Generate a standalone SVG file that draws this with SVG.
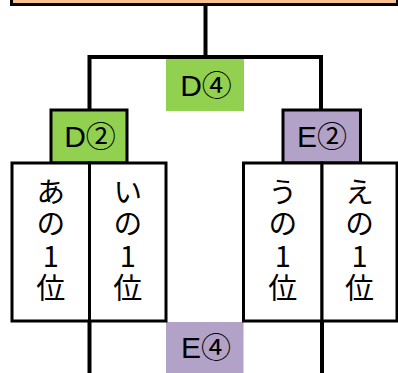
<svg xmlns="http://www.w3.org/2000/svg" width="398" height="373" viewBox="0 0 398 373">
<style>
.box{stroke:#000;stroke-width:3}
.lbl{font-family:"Liberation Sans","Noto Sans CJK JP",sans-serif;font-size:30px;fill:#000;text-anchor:middle}
.v{font-family:"Noto Sans CJK JP","Liberation Sans",sans-serif;font-size:29px;fill:#000;writing-mode:vertical-rl;text-orientation:upright;letter-spacing:3px}
.conn{stroke:#000;stroke-width:4;fill:none}
</style>
<rect width="398" height="373" fill="#fff"/>
<g id="top">
<rect class="box" x="11.5" y="-12" width="386" height="16.5" fill="#FAC090"/>
</g>
<g id="connectors">
<line class="conn" x1="205.5" y1="5" x2="205.5" y2="57"/>
<polyline class="conn" points="89.5,110 89.5,57 321,57 321,110"/>
<line class="conn" x1="89.5" y1="321" x2="89.5" y2="373"/>
<line class="conn" x1="322" y1="321" x2="322" y2="373"/>
</g>
<g id="D4">
<rect x="166" y="59" width="78" height="52" fill="#92D050"/>
<text class="lbl" x="206" y="96">D④</text>
</g>
<g id="D2">
<rect class="box" x="51" y="110" width="76" height="53" fill="#92D050"/>
<text class="lbl" x="90" y="147">D②</text>
</g>
<g id="E2">
<rect class="box" x="283" y="110" width="77.5" height="53" fill="#B3A2C7"/>
<text class="lbl" x="322" y="147">E②</text>
</g>
<g id="E4">
<rect x="166" y="322" width="77.5" height="52" fill="#B3A2C7"/>
<text class="lbl" x="206" y="358">E④</text>
</g>
<g id="a1">
<rect class="box" x="12" y="163" width="77.5" height="158" fill="#fff"/>
<text class="v" x="50.75" y="177">あの1位</text>
</g>
<g id="i1">
<rect class="box" x="89.5" y="163" width="76.5" height="158" fill="#fff"/>
<text class="v" x="127.75" y="177">いの1位</text>
</g>
<g id="u1">
<rect class="box" x="243.5" y="163" width="78.5" height="158" fill="#fff"/>
<text class="v" x="282.75" y="177">うの1位</text>
</g>
<g id="e1">
<rect class="box" x="322" y="163" width="75" height="158" fill="#fff"/>
<text class="v" x="359.5" y="177">えの1位</text>
</g>
</svg>
